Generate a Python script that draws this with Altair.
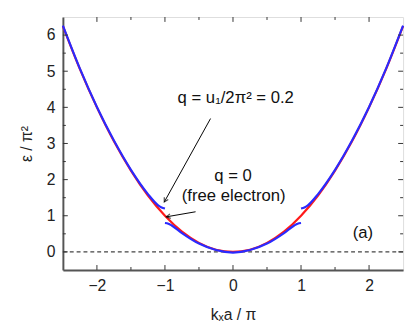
import altair as alt
import pandas as pd

# Free-electron parabola (q = 0)
red_x = [-2.5, -2.25, -2.0, -1.75, -1.5, -1.25, -1.0, -0.75, -0.5, -0.25, 0.0,
         0.25, 0.5, 0.75, 1.0, 1.25, 1.5, 1.75, 2.0, 2.25, 2.5]
red_y = [6.25, 5.06, 4.00, 3.06, 2.25, 1.56, 1.00, 0.56, 0.25, 0.06, 0.00,
         0.06, 0.25, 0.56, 1.00, 1.56, 2.25, 3.06, 4.00, 5.06, 6.25]

# q = 0.2 bands (three drawn pieces)
blue_left_x = [-2.5, -2.25, -2.0, -1.75, -1.5, -1.25, -1.1, -1.05, -1.0]
blue_left_y = [6.26, 5.07, 4.01, 3.08, 2.27, 1.60, 1.29, 1.23, 1.20]
blue_mid_x = [-1.0, -0.95, -0.9, -0.75, -0.5, -0.25, 0.0, 0.25, 0.5, 0.75, 0.9, 0.95, 1.0]
blue_mid_y = [0.80, 0.78, 0.73, 0.52, 0.23, 0.05, -0.02, 0.05, 0.23, 0.52, 0.73, 0.78, 0.80]
blue_right_x = [1.0, 1.05, 1.1, 1.25, 1.5, 1.75, 2.0, 2.25, 2.5]
blue_right_y = [1.20, 1.23, 1.29, 1.60, 2.27, 3.08, 4.01, 5.07, 6.26]

x_major = [-2, -1, 0, 1, 2]
x_minor = [-1.5, -0.5, 0.5, 1.5]
y_major = [0, 1, 2, 3, 4, 5, 6]
y_minor = [0.5, 1.5, 2.5, 3.5, 4.5, 5.5]

# annotation arrows: start -> end (data units)
arrow_x = [-0.33, -0.55]
arrow_y = [3.69, 1.11]
arrow_x2 = [-1.01, -0.98]
arrow_y2 = [1.38, 0.97]
arrow_angle = [209, 260]

labels_text = ["q = u\u2081/2\u03c0\u00b2 = 0.2", "q = 0", "(free electron)", "(a)"]
labels_x = [0.04, 0.0, 0.01, 1.91]
labels_y = [4.26, 2.09, 1.55, 0.52]

W, H = 347, 258
FONT = "Liberation Sans"

xs = alt.Scale(domain=[-2.5, 2.5], nice=False, zero=False)
ys = alt.Scale(domain=[-0.5, 6.5], nice=False, zero=False)

red_df = pd.DataFrame({"x": red_x, "y": red_y})
blue_df = pd.concat([
    pd.DataFrame({"x": blue_left_x, "y": blue_left_y, "seg": "L"}),
    pd.DataFrame({"x": blue_mid_x, "y": blue_mid_y, "seg": "M"}),
    pd.DataFrame({"x": blue_right_x, "y": blue_right_y, "seg": "R"}),
])

xaxis = alt.Axis(values=x_major, format="d", title="k\u2093a / \u03c0", ticks=False,
                 grid=False, domainColor="#555555", domainWidth=2,
                 labelFont=FONT, labelFontSize=16, labelColor="#222222", labelPadding=8,
                 titleFont=FONT, titleFontSize=16, titleFontWeight="normal",
                 titleColor="#222222", titlePadding=14)
yaxis = alt.Axis(values=y_major, format="d", title="\u03b5 / \u03c0\u00b2", ticks=False,
                 grid=False, domainColor="#555555", domainWidth=2,
                 labelFont=FONT, labelFontSize=16, labelColor="#222222", labelPadding=8,
                 titleFont=FONT, titleFontSize=16, titleFontWeight="normal",
                 titleColor="#222222", titlePadding=12)

red = alt.Chart(red_df).mark_line(color="#ff1a1a", strokeWidth=2.2, interpolate="monotone").encode(
    x=alt.X("x:Q", scale=xs, axis=xaxis),
    y=alt.Y("y:Q", scale=ys, axis=yaxis),
)
blue = alt.Chart(blue_df).mark_line(color="#2a2aff", strokeWidth=2.2, interpolate="monotone").encode(
    x=alt.X("x:Q", scale=xs), y=alt.Y("y:Q", scale=ys), detail="seg:N"
)

base = alt.Chart(pd.DataFrame({"y": [0]})).mark_rule(
    color="#444444", strokeWidth=1.5, strokeDash=[4, 3]
).encode(y=alt.Y("y:Q", scale=ys))

def xticks(vals, length):
    d = pd.DataFrame({"x": vals})
    bot = alt.Chart(d).mark_rule(color="#333333", strokeWidth=1).encode(
        x=alt.X("x:Q", scale=xs), y=alt.value(H), y2=alt.value(H - length))
    top = alt.Chart(d).mark_rule(color="#333333", strokeWidth=1).encode(
        x=alt.X("x:Q", scale=xs), y=alt.value(0), y2=alt.value(length))
    return bot + top

def yticks(vals, length):
    d = pd.DataFrame({"y": vals})
    left = alt.Chart(d).mark_rule(color="#333333", strokeWidth=1).encode(
        y=alt.Y("y:Q", scale=ys), x=alt.value(0), x2=alt.value(length))
    right = alt.Chart(d).mark_rule(color="#333333", strokeWidth=1).encode(
        y=alt.Y("y:Q", scale=ys), x=alt.value(W), x2=alt.value(W - length))
    return left + right

arr_df = pd.DataFrame({"x": arrow_x, "y": arrow_y, "x2": arrow_x2, "y2": arrow_y2, "a": arrow_angle})
arrow_lines = alt.Chart(arr_df).mark_rule(color="black", strokeWidth=1).encode(
    x=alt.X("x:Q", scale=xs), y=alt.Y("y:Q", scale=ys), x2="x2:Q", y2="y2:Q")
arrow_heads = alt.Chart(arr_df).mark_point(
    shape="M -0.55 1 L 0 0 L 0.55 1", filled=False, color="black", strokeWidth=1.2, size=70
).encode(x=alt.X("x2:Q", scale=xs), y=alt.Y("y2:Q", scale=ys), angle=alt.Angle("a:Q", scale=None))

txt_df = pd.DataFrame({"t": labels_text, "x": labels_x, "y": labels_y})
texts = alt.Chart(txt_df).mark_text(font=FONT, fontSize=17, color="#111111", baseline="middle").encode(
    x=alt.X("x:Q", scale=xs), y=alt.Y("y:Q", scale=ys), text="t:N")

chart = alt.layer(
    base, red, blue,
    xticks(x_major, 5), xticks(x_minor, 3), yticks(y_major, 5), yticks(y_minor, 3),
    arrow_lines, arrow_heads, texts,
).properties(
    width=W, height=H,
    autosize=alt.AutoSizeParams(type="none"),
    padding={"left": 56, "top": 6, "right": 4, "bottom": 55},
).configure_view(stroke="black", strokeWidth=1.5).configure(background="white")

chart.save("out.html", embed_options={"renderer": "svg", "actions": False})
